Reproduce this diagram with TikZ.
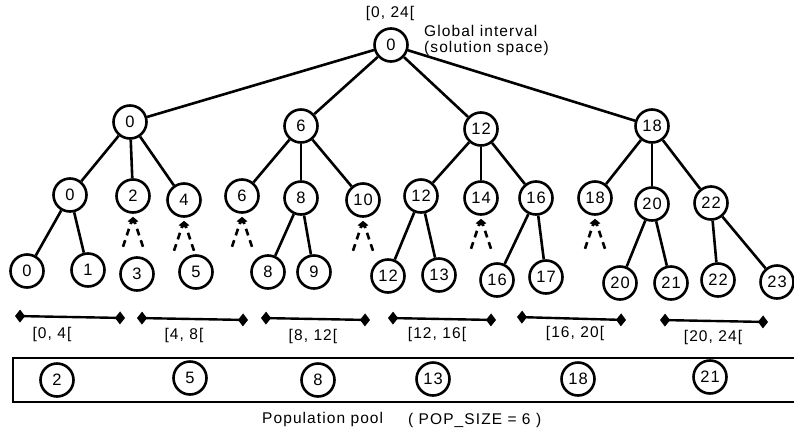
\documentclass[tikz,border=0pt]{standalone}
\usepackage{fontspec}
\setmainfont{Liberation Sans}[LetterSpace=7]
\usetikzlibrary{arrows.meta}
\begin{document}
\begin{tikzpicture}[x=1pt,y=-1pt,
  every node/.style={font=\fontsize{15.5}{18}\selectfont},
  tn/.style={circle,draw,line width=2.6pt,minimum size=33pt,inner sep=0pt,font=\fontsize{16.5}{18}\selectfont},
  edge/.style={line width=2.6pt},
  dotarr/.style={line width=2.6pt,dash pattern=on 7pt off 5pt,-{Triangle[width=7pt,length=6pt]}},
  ivl/.style={line width=2.4pt,{Diamond[width=13pt,length=10pt]}-{Diamond[width=13pt,length=10pt]}},
  lab/.style={anchor=base,inner sep=0pt}]
\useasboundingbox (0,0) rectangle (794,434);
% root
\node[tn] (r) at (391,45) {0};
\node[lab] (rl) at (390,17) {[0, 24[};
\node[lab,anchor=base west] (g1) at (424,36) {Global interval};
\node[lab,anchor=base west] (g2) at (424,52) {(solution space)};
% level 1
\node[tn] (a0) at (130,122) {0};
\node[tn] (a6) at (301,126) {6};
\node[tn] (a12) at (481,129) {12};
\node[tn] (a18) at (652,126) {18};
% level 2
\node[tn] (b0) at (70,195) {0};
\node[tn] (b2) at (133,196) {2};
\node[tn] (b4) at (184,200) {4};
\node[tn] (b6) at (242,196) {6};
\node[tn] (b8) at (301,198) {8};
\node[tn] (b10) at (363,200) {10};
\node[tn] (b12) at (421,196) {12};
\node[tn] (b14) at (481,198) {14};
\node[tn] (b16) at (536,198) {16};
\node[tn] (b18) at (595,198) {18};
\node[tn] (b20) at (652,204) {20};
\node[tn] (b22) at (711,203) {22};
% level 3
\node[tn] (c0) at (27,271) {0};
\node[tn] (c1) at (88,270) {1};
\node[tn] (c3) at (137,274) {3};
\node[tn] (c5) at (196,272) {5};
\node[tn] (c8) at (268,272) {8};
\node[tn] (c9) at (314,272) {9};
\node[tn] (c12) at (388,276) {12};
\node[tn] (c13) at (439,275) {13};
\node[tn] (c16) at (497,280) {16};
\node[tn] (c17) at (546,277) {17};
\node[tn] (c20) at (620,283) {20};
\node[tn] (c21) at (671,283) {21};
\node[tn] (c22) at (718,280) {22};
\node[tn] (c23) at (777,282) {23};
% edges
\foreach \c in {a0,a6,a12,a18} \draw[edge] (r) -- (\c);
\foreach \c in {b0,b2,b4} \draw[edge] (a0) -- (\c);
\foreach \c in {b6,b8,b10} \draw[edge] (a6) -- (\c);
\foreach \c in {b12,b14,b16} \draw[edge] (a12) -- (\c);
\foreach \c in {b18,b20,b22} \draw[edge] (a18) -- (\c);
\draw[edge] (b0) -- (c0); \draw[edge] (b0) -- (c1);
\draw[edge] (b8) -- (c8); \draw[edge] (b8) -- (c9);
\draw[edge] (b12) -- (c12); \draw[edge] (b12) -- (c13);
\draw[edge] (b16) -- (c16); \draw[edge] (b16) -- (c17);
\draw[edge] (b20) -- (c20); \draw[edge] (b20) -- (c21);
\draw[edge] (b22) -- (c22); \draw[edge] (b22) -- (c23);
% dotted unexplored branches
\foreach \b in {b2,b4,b6,b10,b14,b18} {
  \coordinate (\b t) at ([yshift=-3pt]\b.south);
  \coordinate (\b l) at ([xshift=-10pt,yshift=-33pt]\b.south);
  \coordinate (\b r) at ([xshift=10pt,yshift=-33pt]\b.south);
  \draw[dotarr] (\b l) -- (\b t);
  \draw[dotarr] (\b r) -- (\b t);
}
% intervals
\coordinate (i1a) at (15,316); \coordinate (i1b) at (125,318);
\coordinate (i2a) at (137,318); \coordinate (i2b) at (248,320);
\coordinate (i3a) at (261,318); \coordinate (i3b) at (370,320);
\coordinate (i4a) at (388,318); \coordinate (i4b) at (496,320);
\coordinate (i5a) at (517,317); \coordinate (i5b) at (626,320);
\coordinate (i6a) at (660,320); \coordinate (i6b) at (768,322);
\foreach \i in {1,...,6} \draw[ivl] (i\i a) -- (i\i b);
\node[lab] (l1) at (52,338) {[0, 4[};
\node[lab] (l2) at (184,339) {[4, 8[};
\node[lab] (l3) at (313,340) {[8, 12[};
\node[lab] (l4) at (437,338) {[12, 16[};
\node[lab] (l5) at (575,337) {[16, 20[};
\node[lab] (l6) at (713,341) {[20, 24[};
% population pool
\draw[line width=2.6pt] (13,358) -- (800,358);
\draw[line width=2.6pt] (13,402) -- (800,402);
\draw[line width=2.6pt] (13,356.7) -- (13,403.3);
\node[tn] (p2) at (57,380) {2};
\node[tn] (p5) at (190,378) {5};
\node[tn] (p8) at (318,380) {8};
\node[tn] (p13) at (433,379) {13};
\node[tn] (p18) at (578,379) {18};
\node[tn] (p21) at (710,377) {21};
\node[lab,anchor=base west] (pp) at (262,423) {Population pool};
\node[lab,anchor=base west] (ps) at (408,424) {( POP\_SIZE = 6 )};
\end{tikzpicture}
\end{document}
